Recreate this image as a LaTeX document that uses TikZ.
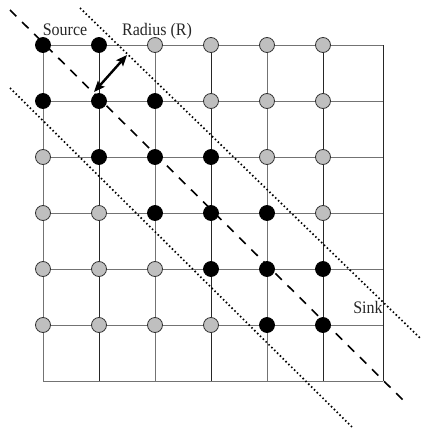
\documentclass[tikz,border=0pt]{standalone}
\usepackage{fontspec}
\setmainfont{Liberation Serif}
\usetikzlibrary{arrows.meta}
\newcommand{\tallword}[1]{\scalebox{1}[1.1]{#1}}
\tikzset{
  site/.style={circle,draw=black!80,fill=black!25,minimum size=15pt,inner sep=0pt,line width=0.8pt},
  hit/.style={site,fill=black,draw=black},
  gridline/.style={black!55,line width=1pt},
  darkline/.style={black!85,line width=0.8pt},
  band/.style={line width=1.7pt,dash pattern=on 1.5pt off 2.5pt},
  axisline/.style={line width=1.6pt,dash pattern=on 9pt off 8pt},
  lbl/.style={font=\fontsize{16}{19}\selectfont,text=black!85,inner sep=0pt,anchor=base},
}
\begin{document}
\begin{tikzpicture}[x=1pt,y=-1pt]
\useasboundingbox (0,0) rectangle (422,431);
%%Frame coordinates
\foreach \i in {0,...,5}{
  \coordinate (top\i) at (43+56*\i,45);
  \coordinate (bot\i) at (43+56*\i,381);
  \coordinate (lft\i) at (43,45+56*\i);
  \coordinate (rgt\i) at (383,45+56*\i);
}
\coordinate (top6) at (383,45);
\coordinate (bot6) at (383,381);
\coordinate (lft6) at (43,381);
\coordinate (rgt6) at (383,381);
%%Grid
\foreach \i in {0,...,6}{
  \draw[gridline] (lft\i) -- (rgt\i);
}
\foreach \i in {0,2,4}{
  \draw[gridline] (top\i) -- (bot\i);
}
\foreach \i in {1,3,5,6}{
  \draw[darkline] (top\i) -- (bot\i);
}
%%Sites
\foreach \r in {0,...,5}{
  \foreach \c in {0,...,5}{
    \pgfmathtruncatemacro{\d}{abs(\c-\r)}
    \ifnum\d<2
      \node[hit] (n\r\c) at (43+56*\c,45+56*\r) {};
    \else
      \node[site] (n\r\c) at (43+56*\c,45+56*\r) {};
    \fi
  }
}
%%Band
\coordinate (dA) at (10,10);
\coordinate (dB) at (405,402);
\coordinate (uA) at (80,8);
\coordinate (uB) at (420,338);
\coordinate (wA) at (10,88);
\coordinate (wB) at (352,427);
\draw[axisline] (dA) -- (dB);
\draw[band] (uA) -- (uB);
\draw[band] (wA) -- (wB);
%%Radius
\coordinate (rA) at (127,55);
\coordinate (rB) at (94,92);
\draw[line width=2.4pt,{Stealth[length=11pt,width=9pt,inset=2pt]}-{Stealth[length=11pt,width=9pt,inset=2pt]}] (rA) -- (rB);
%%Labels
\node[lbl] (src) at (65,35) {\tallword{Source}};
\node[lbl] (rad) at (157,35) {\tallword{Radius (R)}};
\node[lbl] (snk) at (368,313) {\tallword{Sink}};
\end{tikzpicture}
\end{document}
